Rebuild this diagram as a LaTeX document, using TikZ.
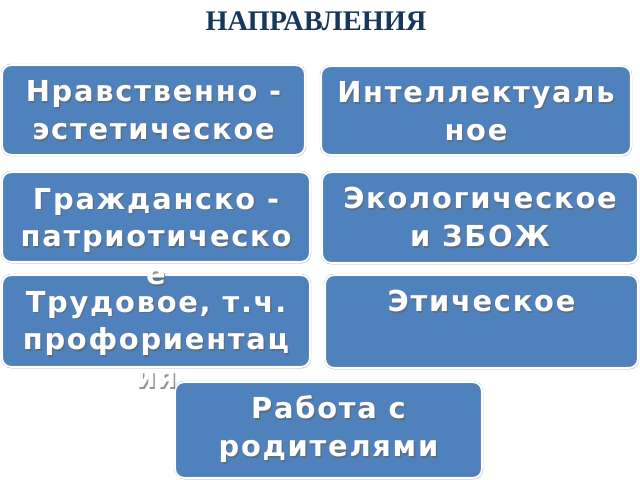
\documentclass[tikz,border=0pt]{standalone}
\usepackage{fontspec}
\setmainfont{Liberation Serif}
\newfontfamily\boxfont[LetterSpace=6]{DejaVu Sans}
\usetikzlibrary{shadows}

\definecolor{boxblue}{RGB}{79,129,189}
\definecolor{titleblue}{RGB}{23,54,93}

\tikzset{
  dirbox/.style={rectangle, rounded corners=9bp, inner sep=0pt,
    fill=boxblue, draw=gray!45, double=white, double distance=1.6bp,
    drop shadow={shadow xshift=1bp, shadow yshift=-1.5bp, opacity=0.3}},
  dirtext/.style={anchor=base, align=center, inner sep=0pt, text=white,
    font=\boxfont\bfseries\fontsize{29}{38}\selectfont},
  dirshade/.style={dirtext, text=black!60, opacity=0.7}
}

\begin{document}
\begin{tikzpicture}[x=1bp,y=-1bp]
      \useasboundingbox (0,0) rectangle (640,480);
      \node[anchor=base, text=titleblue, font=\bfseries\fontsize{28.5}{32}\selectfont]
        (title) at (316,31) {НАПРАВЛЕНИЯ};
      % boxes
      \node[dirbox, minimum width=303bp, minimum height=90bp] (nrav) at (153.5,110) {};
      \node[dirbox, minimum width=310bp, minimum height=89bp] (intel) at (476,110.5) {};
      \node[dirbox, minimum width=308bp, minimum height=90bp] (grazh) at (156,217) {};
      \node[dirbox, minimum width=316bp, minimum height=91bp] (ekol) at (480,217.5) {};
      \node[dirbox, minimum width=308bp, minimum height=92bp] (trud) at (156,321) {};
      \node[dirbox, minimum width=313bp, minimum height=93bp] (etich) at (481.5,321.5) {};
      \node[dirbox, minimum width=307bp, minimum height=96bp] (rabota) at (328.5,430) {};
      % texts, the shift is the baseline of the last line
      \foreach \b/\s/\t in {nrav/75/{Нравственно -\\эстетическое},
                         intel/75/{Интеллектуаль\\ное},
                         grazh/113/{Гражданско -\\патриотическо\\е},
                         ekol/75/{Экологическое\\и ЗБОЖ},
                         trud/113/{Трудовое, т.ч.\\профориентац\\ия},
                         etich/37/{Этическое},
                         rabota/75/{Работа с\\родителями}} {
        \node[dirshade, xshift=1.3bp, yshift=-\s bp-1.3bp] (\b-sh) at (\b.north) {\t};
        \node[dirtext, yshift=-\s bp] (\b-txt) at (\b.north) {\t};
      }
\end{tikzpicture}
\end{document}
